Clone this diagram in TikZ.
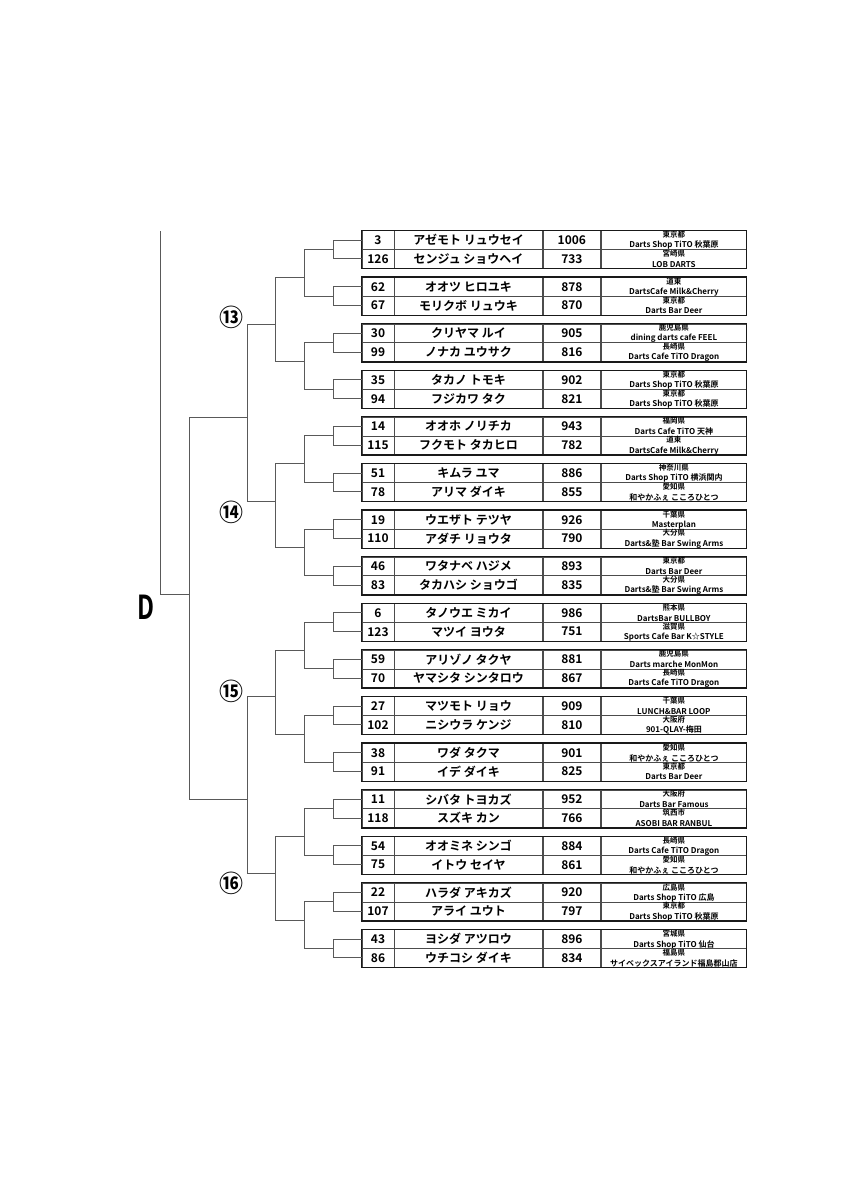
\documentclass[tikz,border=0pt]{standalone}
\usepackage{fontspec}
\setmainfont{Noto Sans CJK JP}[BoldFont={Noto Sans CJK JP Bold}]
\usetikzlibrary{positioning}

\tikzset{
  line/.style={draw=black!65, line width=1pt},
  cell/.style={draw=black!70, line width=0.7pt, inner sep=0pt, minimum height=18.8pt,
    font=\fontsize{12}{12}\selectfont\bfseries},
  frame/.style={draw=black!90, line width=1.3pt},
  pref/.style={inner sep=0pt, font=\fontsize{7.5}{7.5}\selectfont\bfseries},
  club/.style={inner sep=0pt, font=\fontsize{8}{8}\selectfont\bfseries},
  grp/.style={inner sep=0pt, font=\fontsize{24}{24}\selectfont\bfseries},
}

\begin{document}
\begin{tikzpicture}[x=1pt, y=-1pt]
        \useasboundingbox[fill=white] (0,0) rectangle (848,1200);

        % 选手表格（32行）
        \foreach \j/\sd/\nm/\sc/\pf/\cl in {
            0/3/アゼモト リュウセイ/1006/東京都/Darts Shop TiTO 秋葉原,
            1/126/センジュ ショウヘイ/733/宮崎県/LOB DARTS,
            2/62/オオツ ヒロユキ/878/道東/DartsCafe Milk\&Cherry,
            3/67/モリクボ リュウキ/870/東京都/Darts Bar Deer,
            4/30/クリヤマ ルイ/905/鹿児島県/dining darts cafe FEEL,
            5/99/ノナカ ユウサク/816/長崎県/Darts Cafe TiTO Dragon,
            6/35/タカノ トモキ/902/東京都/Darts Shop TiTO 秋葉原,
            7/94/フジカワ タク/821/東京都/Darts Shop TiTO 秋葉原,
            8/14/オオホ ノリチカ/943/福岡県/Darts Cafe TiTO 天神,
            9/115/フクモト タカヒロ/782/道東/DartsCafe Milk\&Cherry,
            10/51/キムラ ユマ/886/神奈川県/Darts Shop TiTO 横浜関内,
            11/78/アリマ ダイキ/855/愛知県/和やかふぇ こころひとつ,
            12/19/ウエザト テツヤ/926/千葉県/Masterplan,
            13/110/アダチ リョウタ/790/大分県/Darts\&塾 Bar Swing Arms,
            14/46/ワタナベ ハジメ/893/東京都/Darts Bar Deer,
            15/83/タカハシ ショウゴ/835/大分県/Darts\&塾 Bar Swing Arms,
            16/6/タノウエ ミカイ/986/熊本県/DartsBar BULLBOY,
            17/123/マツイ ヨウタ/751/滋賀県/Sports Cafe Bar K☆STYLE,
            18/59/アリゾノ タクヤ/881/鹿児島県/Darts marche MonMon,
            19/70/ヤマシタ シンタロウ/867/長崎県/Darts Cafe TiTO Dragon,
            20/27/マツモト リョウ/909/千葉県/LUNCH\&BAR LOOP,
            21/102/ニシウラ ケンジ/810/大阪府/901-QLAY-梅田,
            22/38/ワダ タクマ/901/愛知県/和やかふぇ こころひとつ,
            23/91/イデ ダイキ/825/東京都/Darts Bar Deer,
            24/11/シバタ トヨカズ/952/大阪府/Darts Bar Famous,
            25/118/スズキ カン/766/筑西市/ASOBI BAR RANBUL,
            26/54/オオミネ シンゴ/884/長崎県/Darts Cafe TiTO Dragon,
            27/75/イトウ セイヤ/861/愛知県/和やかふぇ こころひとつ,
            28/22/ハラダ アキカズ/920/広島県/Darts Shop TiTO 広島,
            29/107/アライ ユウト/797/東京都/Darts Shop TiTO 秋葉原,
            30/43/ヨシダ アツロウ/896/宮城県/Darts Shop TiTO 仙台,
            31/86/ウチコシ ダイキ/834/福島県/サイベックスアイランド福島郡山店}{
        \pgfmathsetmacro\yy{240.1+46.6*floor(\j/2)+18.8*mod(\j,2)}
        \node[cell, minimum width=32] (s\j) at (378,\yy) {\sd};
        \node[cell, minimum width=147.7, right=0pt of s\j] (n\j) {\nm};
        \node[cell, minimum width=57.6, right=0pt of n\j] (p\j) {\sc};
        \node[cell, minimum width=145, right=0pt of p\j] (c\j) {};
        \node[pref] (f\j) at ([yshift=-4.4pt]c\j.north) {\pf};
        \node[club] (k\j) at ([yshift=4.4pt]c\j.south) {\cl};
        % 每两行：外框和第一轮
        \ifodd\j
          \pgfmathtruncatemacro\ja{\j-1}
          \pgfmathtruncatemacro\ii{floor(\j/2)}
          \draw[frame] (s\ja.north west) rectangle (c\j.south east);
          \coordinate (m\ii) at (333.3,\yy-9.4);
          \draw[line] (s\ja.west) -| (m\ii) |- (s\j.west);
        \fi
        }

        % 第二轮
        \foreach \k/\yu in {0/277.5,1/361.3,2/463.9,3/547.7,4/650.3,5/734.1,6/836.7,7/920.5}{
          \pgfmathtruncatemacro\a{2*\k}
          \pgfmathtruncatemacro\b{2*\k+1}
          \coordinate (u\k) at (304.3,\yu);
          \draw[line] (m\a) -| (u\k) |- (m\b);
        }

        % 第三轮（组 13--16）
        \foreach \g/\yv in {0/324.1,1/501.1,2/696.9,3/873.9}{
          \pgfmathtruncatemacro\a{2*\g}
          \pgfmathtruncatemacro\b{2*\g+1}
          \coordinate (v\g) at (275.7,\yv);
          \draw[line] (u\a) -| (v\g) |- (u\b);
        }

        % 第四轮、第五轮和决赛线
        \coordinate (w0) at (247.3,417.3);
        \coordinate (w1) at (247.3,799);
        \coordinate (z) at (189.3,594);
        \coordinate (top) at (160.7,231);
        \draw[line] (v0) -| (w0) |- (v1);
        \draw[line] (v2) -| (w1) |- (v3);
        \draw[line] (w0) -| (z) |- (w1);
        \draw[line] (z) -| (top);

        % 组号和区名
        \node[grp] (g13) at (231,317.7) {⑬};
        \node[grp] (g14) at (231,512.7) {⑭};
        \node[grp] (g15) at (231,691.5) {⑮};
        \node[grp] (g16) at (231,883) {⑯};
        \node[inner sep=0pt, font=\fontsize{33}{33}\selectfont\bfseries] (blk) at (146.3,607) {\scalebox{0.72}[1]{D}};
\end{tikzpicture}
\end{document}
